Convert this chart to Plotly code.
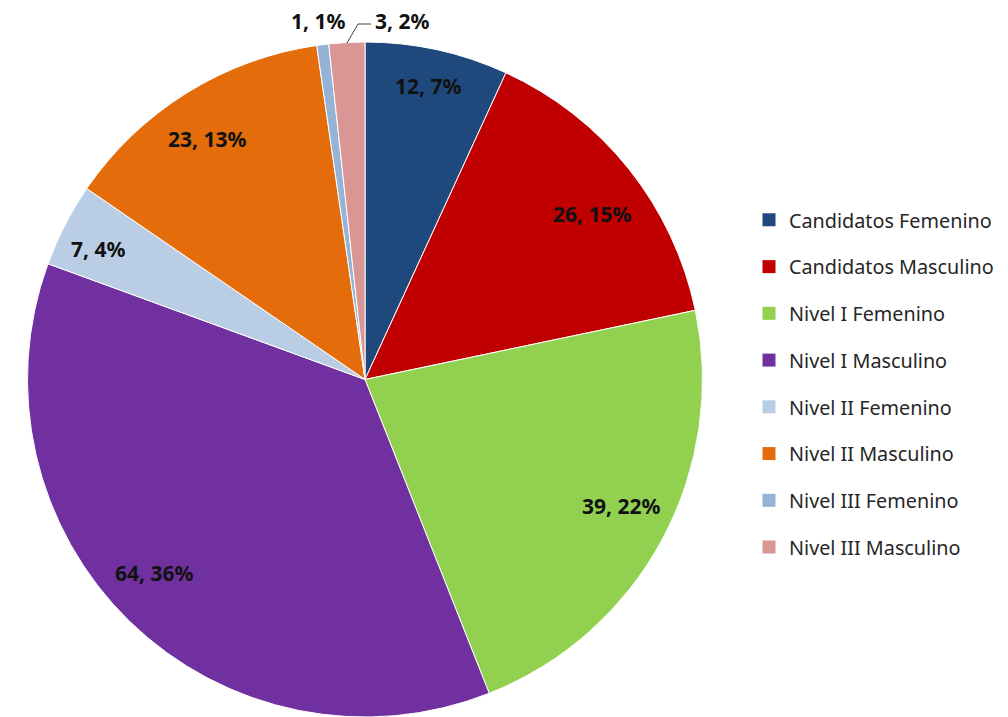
import plotly.graph_objects as go

# ---- data ----
categories = ["Candidatos Femenino", "Candidatos Masculino", "Nivel I Femenino",
              "Nivel I Masculino", "Nivel II Femenino", "Nivel II Masculino",
              "Nivel III Femenino", "Nivel III Masculino"]
values = [12, 26, 39, 64, 7, 23, 1, 3]
percent_labels = ["7%", "15%", "22%", "36%", "4%", "13%", "1%", "2%"]
colors = ["#1F497D", "#C00000", "#92D050", "#7030A0", "#B9CDE5", "#E46C0A",
          "#95B3D7", "#D99694"]

# ---- layout: label anchor points (page pixels) ----
label_pos = [(428, 86), (592, 214), (621, 506), (154, 573), (98, 249),
             (207, 139), (318, 21.5), (373, 21.5)]
label_anchor = ["center"] * 7 + ["left"]

# page has an 8px body margin, so the figure is 1000x709 and offset by 8px
W, H = 1000, 709
OFF = 8


def px2paper(px, py):
    return (px - OFF) / W, 1 - (py - OFF) / H


LABEL_FONT = dict(family="Noto Sans", size=21, color="#111111")

fig = go.Figure()
dom_x = [(27 - OFF) / W, (703 - OFF) / W]
dom_y = [0, (H - (42 - OFF)) / H]
fig.add_trace(go.Pie(
    labels=categories, values=values, sort=False, direction="clockwise",
    rotation=0, marker=dict(colors=colors, line=dict(color="white", width=1)),
    textinfo="none", hoverinfo="label+value+percent", showlegend=False,
    domain=dict(x=dom_x, y=dom_y),
))

# legend entries (square markers)
for i, (c, col) in enumerate(zip(categories, colors)):
    fig.add_trace(go.Scatter(
        x=[None], y=[None], mode="markers", name=c, legendgroup=f"g{i}",
        marker=dict(symbol="square", size=13, color=col), showlegend=True,
    ))

annotations = []
for v, p, pos, xa in zip(values, percent_labels, label_pos, label_anchor):
    x, y = px2paper(*pos)
    annotations.append(dict(x=x, y=y, xref="paper", yref="paper",
                            text=f"<b>{v}, {p}</b>", showarrow=False,
                            font=LABEL_FONT, xanchor=xa, yanchor="middle"))

p1 = px2paper(347, 43)
p2 = px2paper(358, 24)
p3 = px2paper(371, 24)
shapes = [dict(type="path", xref="paper", yref="paper",
               path=f"M {p1[0]},{p1[1]} L {p2[0]},{p2[1]} L {p3[0]},{p3[1]}",
               line=dict(color="#404040", width=1))]

lx, ly = px2paper(789 - 40, 383.5)
fig.update_layout(
    width=W, height=H, margin=dict(l=0, r=0, t=0, b=0),
    paper_bgcolor="white", plot_bgcolor="white",
    xaxis=dict(visible=False), yaxis=dict(visible=False),
    annotations=annotations, shapes=shapes,
    legend=dict(x=lx, y=ly, xanchor="left", yanchor="middle",
                font=dict(family="Noto Sans", size=19.8, color="#262626"),
                tracegroupgap=18, itemsizing="trace"),
)

fig.write_html("out.html")
